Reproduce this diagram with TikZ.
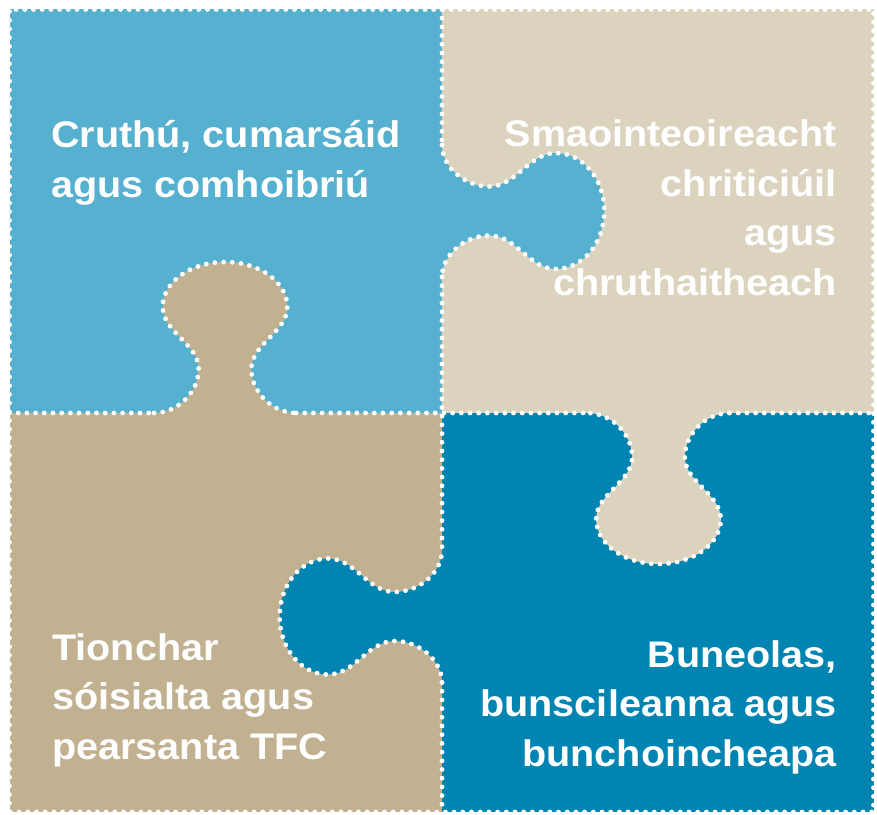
\documentclass[tikz,border=0pt]{standalone}
\usepackage{fontspec}
\newfontfamily\piecefont{Liberation Sans}[FakeStretch=1.07]
\definecolor{lightblue}{RGB}{86,176,207}
\definecolor{sand}{RGB}{220,211,190}
\definecolor{khaki}{RGB}{193,177,145}
\definecolor{deepblue}{RGB}{0,133,178}
\newcommand{\tabcurve}{.. controls (-44,0) and (-24.5,21) .. (-24.5,44)
  .. controls (-24.5,69) and (-58,81) .. (-58,106)
  .. controls (-58,131) and (-32,151) .. (0,151)
  .. controls (32,151) and (58,131) .. (58,106)
  .. controls (58,81) and (24.5,69) .. (24.5,44)
  .. controls (24.5,21) and (44,0) .. (66,0)}

\begin{document}
\begin{tikzpicture}[x=1pt, y=1pt,
    dotline/.style={white, line width=4.8pt, line cap=round, dash pattern=on 0pt off 8.7pt},
    piecetext/.style={text=white, font=\piecefont\bfseries\fontsize{37}{49.5}\selectfont, inner sep=0pt}]
    \useasboundingbox (0,0) rectangle (877,814);

    \fill[lightblue] (9.5,401) rectangle (442,804.5);
    \fill[sand] (442,401) rectangle (873.5,804.5);
    \fill[khaki] (9.5,2) rectangle (442,401);
    \fill[deepblue] (442,2) rectangle (873.5,401);

    \coordinate (tabtop) at (442,603);
    \coordinate (tableft) at (225,401);
    \coordinate (tabright) at (658.5,401);
    \coordinate (tabbottom) at (442,197.5);

    \begin{scope}[shift={(tabtop)}, xscale=1.075, rotate=-90]
        \fill[lightblue] (-66,0) \tabcurve -- cycle;
        \draw[dotline] (-66,0) \tabcurve;
    \end{scope}
    \begin{scope}[shift={(tableft)}, xscale=1.075]
        \fill[khaki] (-66,0) \tabcurve -- cycle;
        \draw[dotline] (-66,0) \tabcurve;
    \end{scope}
    \begin{scope}[shift={(tabright)}, xscale=1.075, rotate=180]
        \fill[sand] (-66,0) \tabcurve -- cycle;
        \draw[dotline] (-66,0) \tabcurve;
    \end{scope}
    \begin{scope}[shift={(tabbottom)}, xscale=1.075, rotate=90]
        \fill[deepblue] (-66,0) \tabcurve -- cycle;
        \draw[dotline] (-66,0) \tabcurve;
    \end{scope}

    \draw[dotline] (442,804.5) -- (442,669);
    \draw[dotline] (442,537) -- (442,263.5);
    \draw[dotline] (442,131.5) -- (442,2);
    \draw[dotline] (9.5,401) -- (154,401);
    \draw[dotline] (296,401) -- (587.5,401);
    \draw[dotline] (729.5,401) -- (873.5,401);
    \draw[dotline] (9.5,2) rectangle (873.5,804.5);

    \node[piecetext, anchor=base west, align=left] (create) at (51,616.5) {Cruthú, cumarsáid\\agus comhoibriú};
    \node[piecetext, anchor=base east, align=right] (thinking) at (837,518.5) {Smaointeoireacht\\chriticiúil\\agus\\chruthaitheach};
    \node[piecetext, anchor=base west, align=left] (impact) at (52,55) {Tionchar\\sóisialta agus\\pearsanta TFC};
    \node[piecetext, anchor=base east, align=right] (basics) at (837,48) {Buneolas,\\bunscileanna agus\\bunchoincheapa};
\end{tikzpicture}
\end{document}
